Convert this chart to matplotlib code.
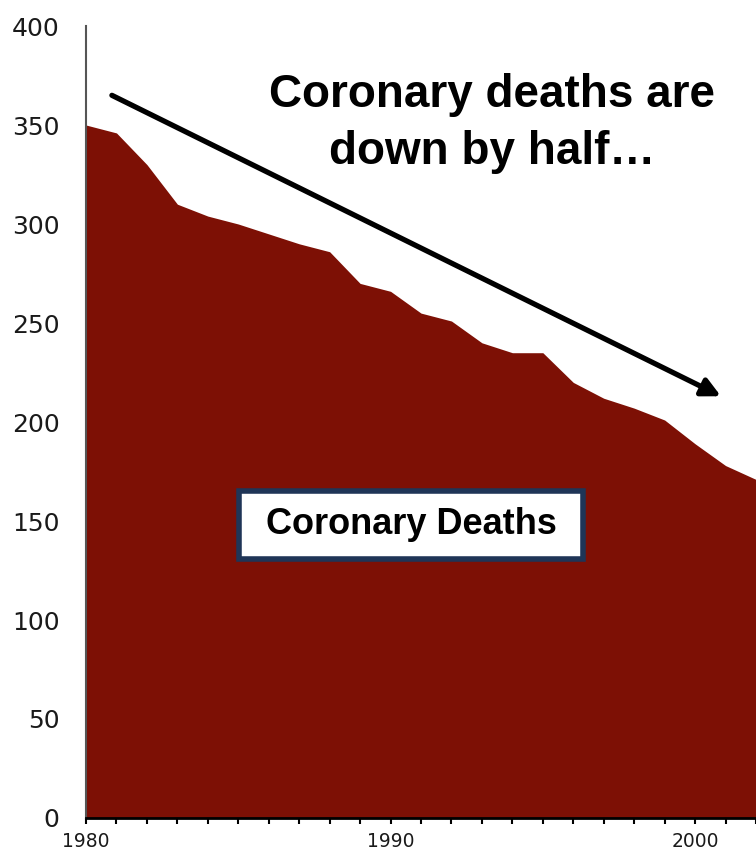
import numpy as np
import matplotlib.pyplot as plt

# coronary deaths per 100,000
years = [1980, 1981, 1982, 1983, 1984, 1985, 1986, 1987, 1988, 1989, 1990,
         1991, 1992, 1993, 1994, 1995, 1996, 1997, 1998, 1999, 2000, 2001, 2002]
deaths = [350, 346, 330, 310, 304, 300, 295, 290, 286, 270, 266,
          255, 251, 240, 235, 235, 220, 212, 207, 201, 189, 178, 171]
yticks = [0, 50, 100, 150, 200, 250, 300, 350, 400]
xlabels = [1980, 1990, 2000]

fill_col = '#7D1005'
box_col = '#1F3557'

fig = plt.figure(figsize=(7.56, 8.56), dpi=100)
ax = fig.add_axes([0.1138, 0.0444, 0.8862, 0.9252])

ax.fill_between(years, deaths, 0, color=fill_col, lw=0)
ax.set_xlim(1980, 2001.85)
ax.set_ylim(0, 400)

ax.spines['top'].set_visible(False)
ax.spines['right'].set_visible(False)
ax.spines['left'].set_color('#555555')
ax.spines['left'].set_linewidth(1.5)
ax.spines['bottom'].set_color('black')
ax.spines['bottom'].set_linewidth(2)

ax.set_yticks(yticks)
ax.tick_params(axis='y', length=0, pad=19, labelsize=18, labelcolor='#1a1a1a')
ax.set_xticks(xlabels)
ax.set_xticks(years, minor=True)
ax.tick_params(axis='x', which='both', length=4, width=1.5, direction='out',
               pad=6, labelsize=13.5, labelcolor='#1a1a1a')

# arrow pointing down the trend
ax.annotate('', xy=(2000.85, 213), xytext=(1980.85, 365),
            arrowprops=dict(arrowstyle='-|>,head_length=1.1,head_width=0.55',
                            lw=3.8, color='black', shrinkA=0, shrinkB=0))

ax.text(0.606, 0.877, 'Coronary deaths are\ndown by half…', transform=ax.transAxes,
        ha='center', va='center', fontsize=33, fontweight='bold',
        family='Liberation Sans', linespacing=1.4)

ax.text(0.485, 0.370, ' Coronary Deaths ', transform=ax.transAxes,
        ha='center', va='center', fontsize=26, fontweight='bold',
        family='Liberation Sans',
        bbox=dict(boxstyle='square,pad=0.45', fc='white', ec=box_col, lw=4))

fig.savefig('out.png', dpi=100)
